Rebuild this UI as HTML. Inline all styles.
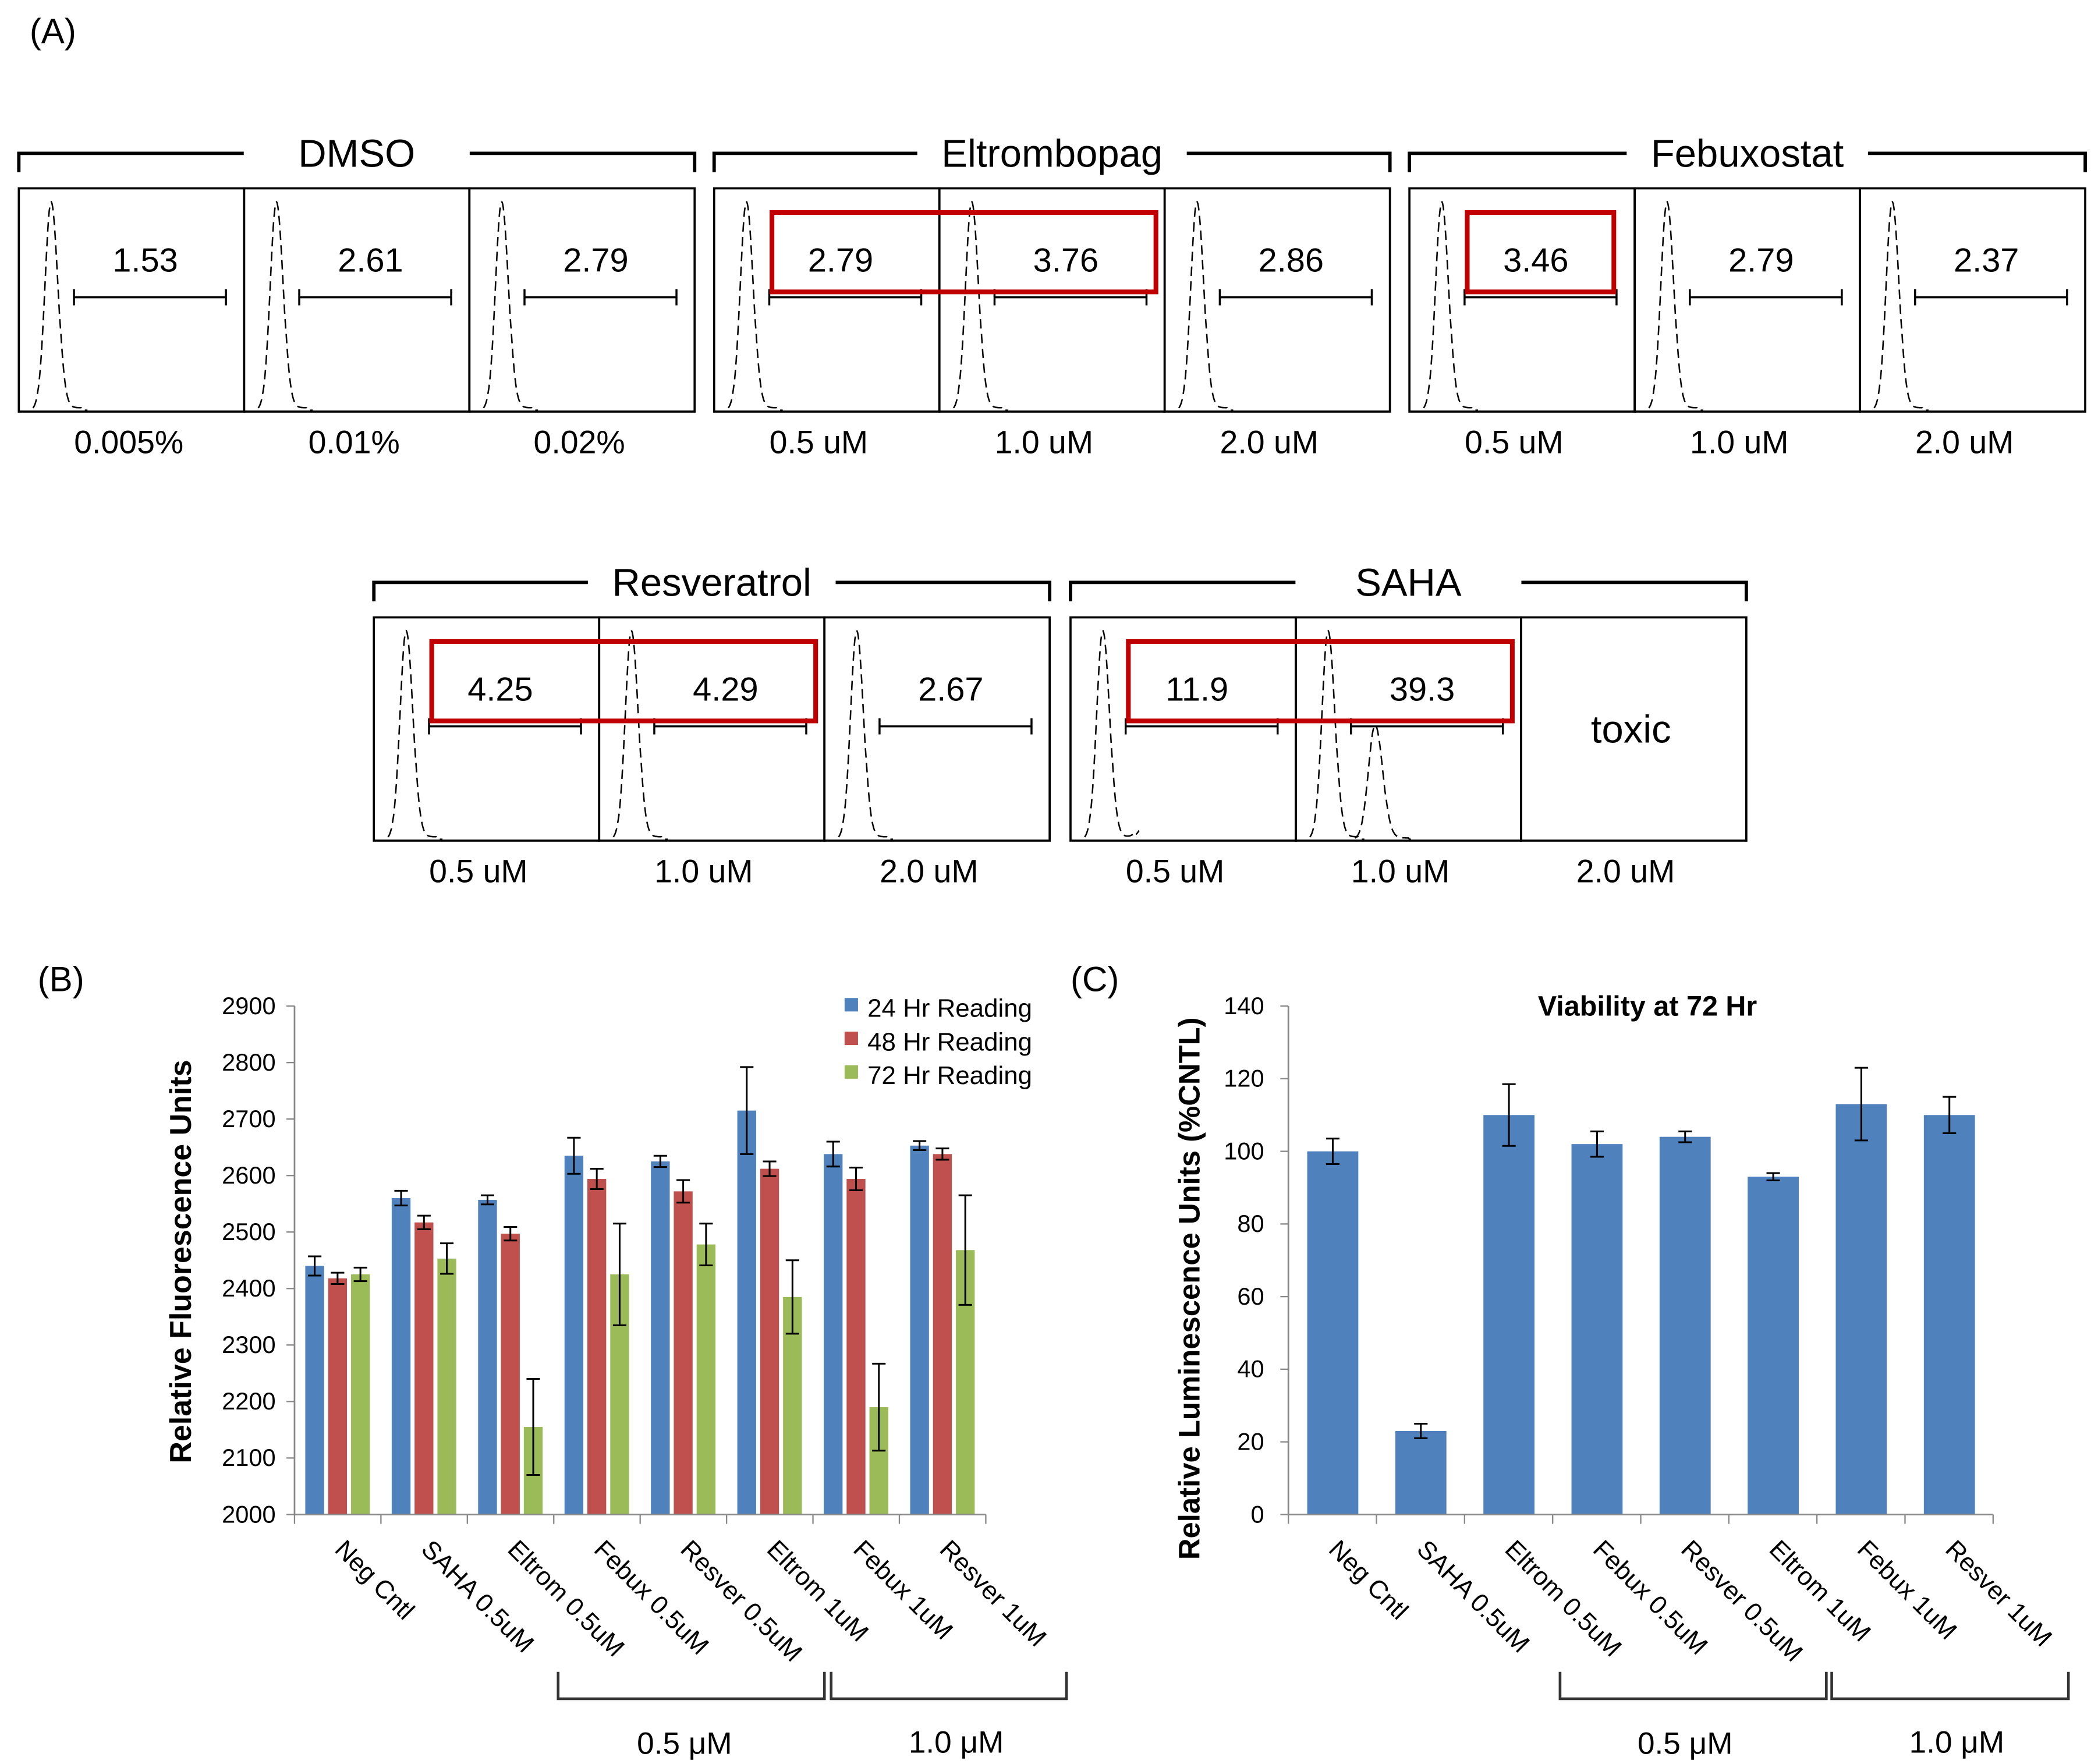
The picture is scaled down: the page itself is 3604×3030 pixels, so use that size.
<!DOCTYPE html>
<html><head><meta charset="utf-8"><style>
html,body{margin:0;padding:0;background:#fff}
svg{display:block}
text{font-family:"Liberation Sans",sans-serif}
</style></head><body>
<svg id="s" width="3604" height="3030" viewBox="0 0 1560 1311.5" xmlns="http://www.w3.org/2000/svg">
<rect width="1560" height="1311.5" fill="#fff"/>
<text x="22" y="32" font-size="26">(A)</text>
<text x="28" y="737" font-size="26">(B)</text>
<text x="796" y="737" font-size="26">(C)</text>
<g id="pa"></g>
<g id="pb"></g>
<g id="pc"></g>
</svg>
<script>
// ---------- Panel A data ----------
const groupNames = ["DMSO","Eltrombopag","Febuxostat","Resveratrol","SAHA"];
const groupX = [14,531,1048,278,796];
const groupY = [140,140,140,459,459];
const groupValues = [["1.53","2.61","2.79"],["2.79","3.76","2.86"],["3.46","2.79","2.37"],["4.25","4.29","2.67"],["11.9","39.3","toxic"]];
const groupDoses = [["0.005%","0.01%","0.02%"],["0.5 uM","1.0 uM","2.0 uM"],["0.5 uM","1.0 uM","2.0 uM"],["0.5 uM","1.0 uM","2.0 uM"],["0.5 uM","1.0 uM","2.0 uM"]];
const highlights = [null,[0,1],[0,0],[0,1],[0,1]];

// ---------- Panel B data ----------
const categories = ["Neg Cntl","SAHA 0.5uM","Eltrom 0.5uM","Febux 0.5uM","Resver 0.5uM","Eltrom 1uM","Febux 1uM","Resver 1uM"];
const series24 = [2440,2560,2557,2635,2625,2715,2638,2653];
const err24 = [17,13,8,32,10,77,22,8];
const series48 = [2418,2517,2497,2594,2572,2612,2594,2638];
const err48 = [10,12,12,18,20,13,20,10];
const series72 = [2425,2453,2155,2425,2478,2385,2190,2468];
const err72 = [12,27,85,90,37,65,77,97];
const seriesNames = ["24 Hr Reading","48 Hr Reading","72 Hr Reading"];
const ticksB = [2000,2100,2200,2300,2400,2500,2600,2700,2800,2900];

// ---------- Panel C data ----------
const viability = [100,23,110,102,104,93,113,110];
const viabilityErr = [3.5,2,8.5,3.5,1.5,1,10,5];
const ticksC = [0,20,40,60,80,100,120,140];

const NS="http://www.w3.org/2000/svg";
function mk(parent,tag,attrs,txt){const e=document.createElementNS(NS,tag);for(const k in attrs)e.setAttribute(k,attrs[k]);if(txt!==undefined)e.textContent=txt;parent.appendChild(e);return e;}

// ----- Panel A -----
const pa=document.getElementById('pa');
const BW=167.5, BH=166;
function peakPath(cx,w,base,top,extra){
  let d="";
  for(let i=0;i<=80;i++){
    const x=cx-3*w+ i*(9*w)/80;
    const t=(x-cx)/w;
    let y=Math.exp(-t*t/2);
    if(t>0) y=Math.exp(-t*t/2*0.8);
    let v=y;
    if(extra) v+=extra(x);
    v+= (t>1.5 && t<5)?0.012:0;
    d+=(i?"L":"M")+x.toFixed(1)+","+(base-v*(base-top)).toFixed(1);
  }
  return d;
}
groupNames.forEach((g,gi)=>{
  const gx=groupX[gi], gy=groupY[gi];
  const by=gy-26;
  const cxm=gx+1.5*BW;
  const tt=mk(pa,'text',{x:cxm,y:by+10,'font-size':29,'text-anchor':'middle'},g);
  
  let half=84;
  try{const w=tt.getComputedTextLength(); if(w>0) half=Math.max(84,w/2+18);}catch(e){}
  const br=mk(pa,'path',{d:`M${gx},${by+14}V${by}H${cxm-half}M${cxm+half},${by}H${gx+3*BW}V${by+14}`,fill:'none',stroke:'#000','stroke-width':2.5});
  
  for(let j=0;j<3;j++){
    const x=gx+j*BW;
    const r=mk(pa,'rect',{x:x,y:gy,width:BW,height:BH,fill:'none',stroke:'#000','stroke-width':1.6});
    
    const val=groupValues[gi][j];
    if(val==="toxic"){
      const t=mk(pa,'text',{x:x+BW/2-2,y:gy+93,'font-size':29,'text-anchor':'middle'},val);
      
    } else {
      const cx=x+24, base=gy+BH-1;
      let extra=null;
      if(gi===4&&j===0) extra=(xx)=>0.09*Math.exp(-Math.pow((xx-(x+58))/8,2));
      const p=mk(pa,'path',{d:peakPath(cx,4.5,base,gy+10,extra),fill:'none',stroke:'#000','stroke-width':1.1,'stroke-dasharray':'7,4'});
      
      if(gi===4&&j===1){
        const p2=mk(pa,'path',{d:peakPath(x+59,5,base,gy+80,null),fill:'none',stroke:'#000','stroke-width':1.1,'stroke-dasharray':'7,4'});
        
      }
      const gl=mk(pa,'path',{d:`M${x+41},${gy+81}H${x+154}M${x+41},${gy+75}V${gy+87}M${x+154},${gy+75}V${gy+87}`,stroke:'#000','stroke-width':1.5,fill:'none'});
      
      const t=mk(pa,'text',{x:x+94,y:gy+62,'font-size':25,'text-anchor':'middle'},val);
      
    }
    const d=mk(pa,'text',{x:x+BW/2-(gi===0?2:6),y:gy+BH+31,'font-size':24,'text-anchor':'middle'},groupDoses[gi][j]);
    
  }
  const h=highlights[gi];
  if(h){
    const x0=gx+h[0]*BW+43, x1=gx+h[1]*BW+(h[0]===h[1]?152:161);
    const rr=mk(pa,'rect',{x:x0,y:gy+18,width:x1-x0,height:59,fill:'none',stroke:'#C00000','stroke-width':3.5});
    
  }
});

// ----- Panel B -----
const pb=document.getElementById('pb');
const bx0=219,bx1=733,by0=1126,by1=748;
const yB=v=>by0-(v-2000)/900*(by0-by1);
const gw=(bx1-bx0)/categories.length;
const colors=["#4F81BD","#C0504D","#9BBB59"];
const sv=[series24,series48,series72], se=[err24,err48,err72];
ticksB.forEach(t=>{
  const l=mk(pb,'line',{x1:bx0-6,x2:bx0,y1:yB(t),y2:yB(t),stroke:'#888','stroke-width':1});
  
  const tx=mk(pb,'text',{x:bx0-14,y:yB(t)+6,'font-size':18,'text-anchor':'end'},t);
  
});
categories.forEach((c,i)=>{
  for(let s=0;s<3;s++){
    const x=bx0+i*gw+8+s*17;
    const v=sv[s][i];
    const b=mk(pb,'rect',{x:x,y:yB(v),width:14,height:by0-yB(v),fill:colors[s]});
    
    const e=se[s][i], cx=x+7;
    const eb=mk(pb,'path',{d:`M${cx},${yB(v+e)}V${yB(v-e)}M${cx-5},${yB(v+e)}H${cx+5}M${cx-5},${yB(v-e)}H${cx+5}`,stroke:'#000','stroke-width':1.3,fill:'none'});
    
  }
  const tk=mk(pb,'line',{x1:bx0+i*gw,x2:bx0+i*gw,y1:by0,y2:by0+7,stroke:'#888'});
  
  const lx=bx0+i*gw+29, ly=by0+27;
  const t=mk(pb,'text',{x:lx,y:ly,'font-size':19,transform:`rotate(45 ${lx} ${ly})`},c);
  
});
mk(pb,'line',{x1:bx1,x2:bx1,y1:by0,y2:by0+7,stroke:'#888'});
const axb=mk(pb,'path',{d:`M${bx0},${by1}V${by0}H${bx1}`,stroke:'#888','stroke-width':1.2,fill:'none'});

const ytb=mk(pb,'text',{x:142,y:938,'font-size':22.5,'font-weight':'bold','text-anchor':'middle',transform:'rotate(-90 142 938)'},'Relative Fluorescence Units');

seriesNames.forEach((n,s)=>{
  const r=mk(pb,'rect',{x:628,y:742+s*25,width:10,height:10,fill:colors[s]});
  
  const t=mk(pb,'text',{x:645,y:756+s*25,'font-size':19},n);
  
});
function brackets(g,a,b,c,d,la,lb){
  const p=mk(g,'path',{d:`M${a},1243V1263H${b}V1243M${c},1243V1263H${d}V1243`,stroke:'#333','stroke-width':2,fill:'none'});
  
  const t1=mk(g,'text',{x:la,y:1304,'font-size':23,'text-anchor':'middle','font-family':'Liberation Serif, serif'},'0.5 μM');
  
  const t2=mk(g,'text',{x:lb,y:1303,'font-size':23,'text-anchor':'middle','font-family':'Liberation Serif, serif'},'1.0 μM');
  
}
brackets(pb,415,613,618,793,509,711);

// ----- Panel C -----
const pc=document.getElementById('pc');
const cx0=958,cx1=1482;
const yC=v=>by0-v/140*(by0-by1);
const cw=(cx1-cx0)/categories.length;
ticksC.forEach(t=>{
  const l=mk(pc,'line',{x1:cx0-6,x2:cx0,y1:yC(t),y2:yC(t),stroke:'#888'});
  
  const tx=mk(pc,'text',{x:cx0-18,y:yC(t)+6,'font-size':18,'text-anchor':'end'},t);
  
});
categories.forEach((c,i)=>{
  const x=cx0+i*cw+14, v=viability[i], e=viabilityErr[i];
  const b=mk(pc,'rect',{x:x,y:yC(v),width:38,height:by0-yC(v),fill:'#4F81BD'});
  
  const m=x+19;
  const eb=mk(pc,'path',{d:`M${m},${yC(v+e)}V${yC(v-e)}M${m-5},${yC(v+e)}H${m+5}M${m-5},${yC(v-e)}H${m+5}`,stroke:'#000','stroke-width':1.3,fill:'none'});
  
  const tk=mk(pc,'line',{x1:cx0+i*cw,x2:cx0+i*cw,y1:by0,y2:by0+7,stroke:'#888'});
  
  const lx=cx0+i*cw+29, ly=by0+27;
  const t=mk(pc,'text',{x:lx,y:ly,'font-size':19,transform:`rotate(45 ${lx} ${ly})`},c);
  
});
mk(pc,'line',{x1:cx1,x2:cx1,y1:by0,y2:by0+7,stroke:'#888'});
const axc=mk(pc,'path',{d:`M${cx0},${by1}V${by0}H${cx1}`,stroke:'#888','stroke-width':1.2,fill:'none'});

const ytc=mk(pc,'text',{x:892,y:958,'font-size':22,'font-weight':'bold','text-anchor':'middle',transform:'rotate(-90 892 958)'},'Relative Luminescence Units (%CNTL)');

const tc=mk(pc,'text',{x:1225,y:755,'font-size':21,'font-weight':'bold','text-anchor':'middle'},'Viability at 72 Hr');

brackets(pc,1160,1358,1362,1538,1253,1455);
</script>
</body></html>
